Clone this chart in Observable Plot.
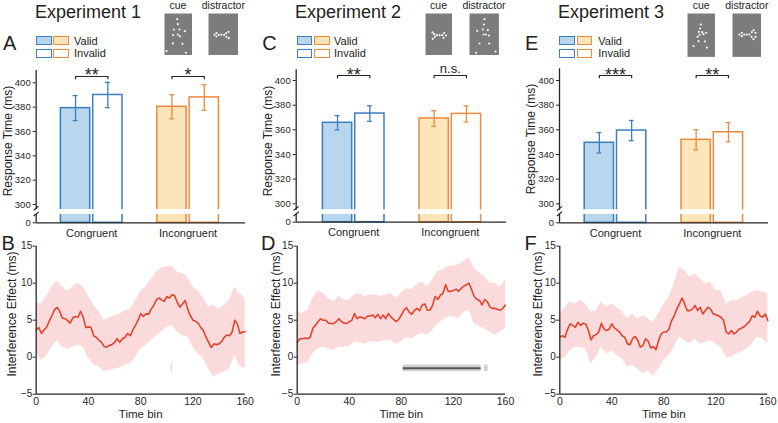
<!DOCTYPE html>
<html><head><meta charset="utf-8">
<script src="https://cdn.jsdelivr.net/npm/d3@7"></script>
<script src="https://cdn.jsdelivr.net/npm/@observablehq/plot@0.6"></script>
<style>
body{margin:0;background:#fff;}
#fig{position:relative;width:778px;height:423px;font-family:"Liberation Sans",Arial,sans-serif;color:#222;overflow:hidden;background:#fff}
.box{position:absolute;box-sizing:border-box;border:1.5px solid}
</style></head><body><div id="fig"></div>
<script>
// ---------------- DATA ----------------
const experiments = ["Experiment 1", "Experiment 2", "Experiment 3"];
const letters = [["A", "B"], ["C", "D"], ["E", "F"]];
const conditions = ["Congruent", "Incongruent"];
const validity = ["Valid", "Invalid"];
const barTicks = [300, 320, 340, 360, 380, 400];
// order: Congruent-Valid, Congruent-Invalid, Incongruent-Valid, Incongruent-Invalid
const rtExp1 = [379.2, 390.0, 380.3, 388.0];
const semExp1 = [10.3, 10.4, 9.9, 10.5];
const rtExp2 = [365.7, 373.2, 369.2, 372.9];
const semExp2 = [5.8, 6.3, 6.3, 6.5];
const rtExp3 = [349.5, 359.4, 351.9, 358.0];
const semExp3 = [8.3, 8.2, 8.2, 7.8];
const sigExp1 = ["**", "*"];
const sigExp2 = ["**", "n.s."];
const sigExp3 = ["***", "**"];

const timeTicks = [0, 40, 80, 120, 160];
const effectTicks = [-5, 0, 5, 10, 15];
const meanBins = d3.range(0, 161, 2);
const bandBins = d3.range(0, 161, 4);
const meanExp1 = [3.7,4.0,3.2,3.7,4.05,4.9,5.6,6.4,6.75,6.2,5.3,5.2,4.95,4.6,5.3,5.5,5.4,6.2,5.4,4.0,4.1,4.0,2.9,2.7,2.3,2.0,1.45,1.35,1.6,1.7,2.0,2.5,2.0,2.5,2.7,3.2,2.9,3.7,4.3,5.0,5.9,5.5,5.85,5.8,6.5,7.0,7.75,8.0,7.75,7.55,8.2,8.0,8.45,8.3,7.4,6.75,7.2,7.65,6.5,5.6,5.0,4.85,4.6,4.0,3.6,2.7,2.0,1.3,1.8,1.7,1.8,2.15,2.7,3.0,2.9,3.4,5.0,4.5,3.2,3.4,3.45];
const upperExp1 = [7.4,7.2,8.2,9.5,10.3,9.5,8.9,9.5,10.0,9.5,8.2,7.0,6.1,5.0,5.3,5.6,5.8,6.3,6.5,7.6,8.9,9.5,10.5,11.5,12.1,12.2,12.3,11.5,11.3,10.8,9.5,8.9,8.0,6.8,7.0,6.5,7.0,7.7,9.5,8.5,8.0];
const lowerExp1 = [0.45,-0.45,0.2,1.35,2.25,1.35,1.1,1.35,1.6,1.35,-0.1,-1.0,-1.25,-1.9,-1.8,-1.6,-1.45,-1.1,-0.9,0,1.1,1.6,2.25,2.9,3.4,4.0,4.3,3.4,2.9,2.7,1.35,0.45,-0.2,-1.6,-2.7,-2.25,-2.0,-1.6,0.2,-1.25,-1.6];
const meanExp2 = [2.0,2.5,2.5,2.6,2.5,2.7,3.9,4.3,4.8,5.2,5.0,5.0,4.6,4.55,4.55,4.8,5.2,4.8,4.6,4.55,4.8,5.0,5.9,5.2,5.45,5.35,5.2,5.55,5.55,5.7,5.35,5.8,5.2,5.7,5.2,5.9,5.45,5.1,4.8,5.1,5.7,6.35,6.7,6.1,5.8,6.3,6.6,6.3,7.05,7.2,6.35,6.35,7.05,8.2,7.8,8.4,8.6,9.8,8.9,8.9,9.0,9.2,8.9,9.3,9.6,9.8,10.0,9.1,8.2,7.8,7.7,7.05,7.8,7.5,6.8,6.6,6.6,6.45,6.35,6.6,7.05];
const upperExp2 = [6.1,5.9,6.35,7.95,8.9,8.6,7.95,7.5,8.2,7.7,7.7,8.4,8.6,8.2,8.4,8.4,8.2,8.4,8.6,7.95,8.6,9.3,9.1,9.8,10.2,9.5,10.45,11.6,11.8,12.3,12.3,12.5,12.95,13.4,12.05,11.4,10.9,10.0,10.0,9.5,10.45];
const lowerExp2 = [-1.15,-0.9,-0.7,0.45,1.15,1.35,1.15,0.9,1.35,1.35,1.45,2.05,1.9,1.8,2.05,2.05,2.05,2.3,2.3,1.8,2.05,2.7,2.5,2.95,3.2,2.95,3.6,4.55,5.0,5.45,5.45,5.2,6.1,6.35,4.55,4.1,3.85,3.4,2.95,3.4,3.85];
const meanExp3 = [2.7,2.9,2.7,3.8,4.5,4.3,4.05,4.7,4.3,4.6,4.5,3.6,2.35,2.9,3.05,3.4,4.6,3.8,3.6,3.8,4.5,3.95,3.7,3.4,2.9,2.7,1.8,1.7,2.5,2.8,2.25,1.35,1.6,2.5,2.15,1.25,1.45,1.0,2.25,3.15,3.4,3.4,3.8,4.95,5.6,6.5,7.2,8.0,7.2,6.3,6.3,6.5,7.0,6.3,6.75,5.85,6.3,6.75,6.5,5.85,5.75,5.6,5.4,4.95,3.4,3.15,3.6,3.15,3.4,3.8,3.95,4.15,4.5,4.85,5.6,5.4,6.2,5.6,5.4,5.85,4.95];
const upperExp3 = [5.85,6.75,7.45,7.2,7.65,7.2,6.1,6.3,7.45,6.75,7.2,6.75,6.1,5.2,5.85,5.2,5.6,5.2,4.7,5.85,7.2,8.1,9.9,12.2,11.7,10.8,11.25,10.6,9.9,10.15,9.0,9.0,7.2,7.65,7.65,8.1,8.3,8.8,9.0,8.8,8.55];
const lowerExp3 = [-0.45,0,0.9,1.35,1.35,1.1,-0.9,0,1.35,0.45,0.9,0.2,-0.2,-1.35,-1.1,-1.6,-2.25,-1.8,-2.6,-1.6,-0.45,0.2,1.35,2.7,2.25,1.8,2.5,1.8,2.0,2.25,1.8,1.35,0,0,0.45,0.7,1.1,1.8,2.7,2.5,1.8];
// significant time-bin clusters [start, end]
const sigLightExp1 = [[103.4, 104.2]];
const sigDarkExp1 = [];
const sigLightExp2 = [[81.4, 141.3], [143.9, 146.7]];
const sigDarkExp2 = [[81.4, 141.3]];
const sigLightExp3 = [];
const sigDarkExp3 = [];

// stimulus dot positions (normalised within each stimulus image)
const stimScatter1 = [[0.458,0.135],[0.482,0.254],[0.337,0.381],[0.542,0.381],[0.735,0.421],[0.482,0.5],[0.313,0.516],[0.554,0.54],[0.301,0.714],[0.651,0.722],[0.072,0.897],[0.771,0.937]];
const stimArrow1 = [[0.2,0.508],[0.267,0.468],[0.267,0.548],[0.344,0.508],[0.433,0.508],[0.522,0.508],[0.589,0.468],[0.667,0.437],[0.6,0.556],[0.678,0.587]];
const stimArrow2 = [[0.253,0.452],[0.313,0.492],[0.265,0.603],[0.337,0.556],[0.41,0.516],[0.506,0.516],[0.602,0.516],[0.675,0.468],[0.747,0.524],[0.651,0.579]];
const stimScatter2 = [[0.511,0.135],[0.489,0.262],[0.261,0.413],[0.455,0.381],[0.625,0.397],[0.477,0.5],[0.557,0.5],[0.659,0.524],[0.341,0.714],[0.67,0.714],[0.227,0.937],[0.886,0.905]];
const stimScatter3 = [[0.482,0.254],[0.458,0.346],[0.41,0.423],[0.53,0.431],[0.578,0.477],[0.434,0.492],[0.675,0.446],[0.362,0.538],[0.398,0.638],[0.627,0.646],[0.217,0.754],[0.699,0.785]];
const stimArrow3 = [[0.241,0.485],[0.322,0.446],[0.322,0.523],[0.402,0.485],[0.494,0.485],[0.586,0.485],[0.667,0.431],[0.724,0.385],[0.793,0.446],[0.793,0.538],[0.724,0.592],[0.655,0.538]];

// ---------------- STYLE ----------------
const strokeCols = ["#3b7dbd", "#ec8a3f"];
const fillCols = ["#b9d6ef", "#fbe5b9"];
const axisCol = "#262626";
const fontFam = "'Liberation Sans', Arial, sans-serif";
const fig = document.getElementById("fig");

function addText(txt, x, baseline, fs, center) {
  const d = document.createElement("div");
  d.textContent = txt;
  d.style.cssText = `position:absolute;left:${x}px;top:${baseline - 0.8465 * fs}px;font-size:${fs}px;line-height:${fs}px;white-space:nowrap;`;
  if (center) d.style.transform = "translateX(-50%)";
  fig.appendChild(d);
}
function addRotated(txt, cx, cy, fs) {
  const d = document.createElement("div");
  d.textContent = txt;
  d.style.cssText = `position:absolute;left:${cx}px;top:${cy}px;font-size:${fs}px;line-height:${fs}px;white-space:nowrap;transform:translate(-50%,-50%) rotate(-90deg);`;
  fig.appendChild(d);
}
function place(el, left, top) {
  el.style.position = "absolute";
  el.style.left = left + "px";
  el.style.top = top + "px";
  fig.appendChild(el);
}
const baseStyle = {fontFamily: fontFam, fontSize: "10px", color: axisCol, background: "transparent", overflow: "visible"};

// ---------------- BAR PANELS ----------------
function barChart(rt, sem, sig, c) {
  const k = (c.px300 - c.px400) / 100;
  const val = px => 300 + (c.px300 - px) / k;
  const yMin = val(c.pxBase), yMax = val(c.pxTop);
  const xMin = (c.L - c.c0) / c.step, xMax = (c.R - c.c0) / c.step;
  const half = 30.8 / c.step, gap = 1.5 / c.step, cap = 2.4 / c.step;
  const bars = rt.map((v, i) => {
    const ci = Math.floor(i / 2), vi = i % 2;
    const x1 = vi === 0 ? ci - half : ci + gap;
    const x2 = vi === 0 ? ci - gap : ci + half;
    return {ci, vi, v, s: sem[i], x1, x2, xc: (x1 + x2) / 2};
  });
  const brk1 = val(c.pxBreak2), brk2 = val(c.pxBreak1);
  const by = val(c.pxBracket), drop = 3.3 / k;
  const brackets = sig.map((s, ci) => ({ci, s, xa: bars[ci * 2].xc, xb: bars[ci * 2 + 1].xc}));
  return Plot.plot({
    width: c.W, height: 180,
    marginLeft: c.L, marginRight: c.W - c.R, marginTop: c.pxTop, marginBottom: 180 - c.pxBase,
    style: baseStyle,
    x: {domain: [xMin, xMax], label: null},
    y: {domain: [yMin, yMax], label: null},
    color: {type: "identity"},
    marks: [
      Plot.rect(bars, {x1: "x1", x2: "x2", y1: yMin, y2: "v",
        fill: d => d.vi === 0 ? fillCols[d.ci] : "white", stroke: d => strokeCols[d.ci], strokeWidth: 1.5}),
      Plot.ruleX(bars, {x: "xc", y1: d => d.v - d.s, y2: d => d.v + d.s, stroke: d => strokeCols[d.ci], strokeWidth: 1.3}),
      Plot.ruleY(bars, {y: d => d.v - d.s, x1: d => d.xc - cap, x2: d => d.xc + cap, stroke: d => strokeCols[d.ci], strokeWidth: 1.3}),
      Plot.ruleY(bars, {y: d => d.v + d.s, x1: d => d.xc - cap, x2: d => d.xc + cap, stroke: d => strokeCols[d.ci], strokeWidth: 1.3}),
      Plot.rect([0], {x1: xMin + 0.005, x2: xMax + 0.05, y1: brk1, y2: brk2, fill: "white"}),
      Plot.ruleY([yMin], {x1: xMin, x2: xMax, stroke: axisCol, strokeWidth: 1.3}),
      Plot.ruleX([xMin], {y1: yMin, y2: brk1 + 0.3, stroke: axisCol, strokeWidth: 1.3}),
      Plot.ruleX([xMin], {y1: brk2 - 0.3, y2: yMax, stroke: axisCol, strokeWidth: 1.3}),
      Plot.link([0, 1], {x1: xMin - 2.6 / c.step, x2: xMin + 2.6 / c.step,
        y1: d => brk1 - 1.2 + d * (brk2 - brk1 + 0.6), y2: d => brk1 + 2.2 + d * (brk2 - brk1 + 0.6), stroke: axisCol, strokeWidth: 1.1}),
      Plot.axisY({ticks: [yMin, ...barTicks], tickFormat: d => d < 300 ? "0" : String(d), tickSize: 3, tickPadding: 2.5, fontSize: 9.5, label: null}),
      Plot.axisX({ticks: [0, 1], tickFormat: i => conditions[i], tickSize: 0, tickPadding: 6, fontSize: 11, label: null}),
      Plot.link(brackets, {x1: "xa", x2: "xb", y1: by, y2: by, stroke: axisCol, strokeWidth: 1.2}),
      Plot.ruleX(brackets, {x: "xa", y1: by - drop, y2: by, stroke: axisCol, strokeWidth: 1.2}),
      Plot.ruleX(brackets, {x: "xb", y1: by - drop, y2: by, stroke: axisCol, strokeWidth: 1.2}),
      Plot.text(brackets.filter(b => b.s !== "n.s."), {x: "ci", y: by, text: "s", fontSize: 18, dy: c.starDy, fill: axisCol}),
      Plot.text(brackets.filter(b => b.s === "n.s."), {x: "ci", y: by, text: "s", fontSize: 13, dy: -6.5, fill: axisCol})
    ]
  });
}

const barCfg = [
  {W: 260, L: 35.7, R: 245, c0: 91.2, step: 96.4, px400: 22.3, px300: 144, pxBase: 162.3, pxTop: 10, pxBreak1: 149, pxBreak2: 154, pxBracket: 16, starDy: -1.6},
  {W: 260, L: 35.7, R: 246, c0: 93.2, step: 96.6, px400: 20, px300: 143.3, pxBase: 161.7, pxTop: 9.3, pxBreak1: 149.3, pxBreak2: 154, pxBracket: 15, starDy: -0.6},
  {W: 258, L: 39, R: 248, c0: 95, step: 96.8, px400: 20, px300: 143.3, pxBase: 162.3, pxTop: 8.3, pxBreak1: 149.3, pxBreak2: 154, pxBracket: 15, starDy: -0.6}
];
const rts = [rtExp1, rtExp2, rtExp3], sems = [semExp1, semExp2, semExp3], sigs = [sigExp1, sigExp2, sigExp3];
const barLefts = [0, 260, 520];
for (let e = 0; e < 3; e++) place(barChart(rts[e], sems[e], sigs[e], barCfg[e]), barLefts[e], 60);

// ---------------- LINE PANELS ----------------
function lineChart(mean, upper, lower, sigLight, sigDark, c) {
  const meanData = meanBins.map((t, i) => ({t, v: mean[i]}));
  const bandData = bandBins.map((t, i) => ({t, lo: lower[i], hi: upper[i]}));
  const light = sigLight.map(([a, b]) => ({a, b}));
  const dark = sigDark.map(([a, b]) => ({a, b}));
  return Plot.plot({
    width: c.W, height: 183,
    marginLeft: c.L, marginRight: c.W - c.R, marginTop: 5.7, marginBottom: 29.3,
    style: baseStyle,
    x: {domain: [0, 160], label: null},
    y: {domain: [-5, 15], label: null},
    marks: [
      Plot.areaY(bandData, {x: "t", y1: "lo", y2: "hi", fill: "#fadada"}),
      Plot.rect(light, {x1: "a", x2: "b", y1: -1.5 - c.h, y2: -1.5 + c.h, fill: "#d2d2d2"}),
      Plot.ruleY(dark, {x1: "a", x2: "b", y: -1.5, stroke: "#555", strokeWidth: 2}),
      Plot.line(meanData, {x: "t", y: "v", stroke: "#e1452f", strokeWidth: 1.6}),
      Plot.ruleX([0], {y1: -5, y2: 15, stroke: axisCol, strokeWidth: 1.3}),
      Plot.ruleY([-5], {x1: 0, x2: 160, stroke: axisCol, strokeWidth: 1.3}),
      Plot.axisY({ticks: effectTicks, tickSize: 3, tickPadding: 1, fontSize: 10, label: null}),
      Plot.axisX({ticks: timeTicks, tickSize: 0, tickPadding: 3.5, fontSize: 10.5, label: null}),
      Plot.text(["Time bin"], {frameAnchor: "bottom", lineAnchor: "middle", text: d => d, dy: 19.8, fontSize: 11.5, fill: axisCol})
    ]
  });
}
const lineCfg = [
  {W: 260, L: 35.7, R: 244.7, h: 0.62},
  {W: 260, L: 36.7, R: 245, h: 0.45},
  {W: 258, L: 39.3, R: 247.3, h: 0.45}
];
const means = [meanExp1, meanExp2, meanExp3], uppers = [upperExp1, upperExp2, upperExp3], lowers = [lowerExp1, lowerExp2, lowerExp3];
const sigL = [sigLightExp1, sigLightExp2, sigLightExp3], sigD = [sigDarkExp1, sigDarkExp2, sigDarkExp3];
for (let e = 0; e < 3; e++) place(lineChart(means[e], uppers[e], lowers[e], sigL[e], sigD[e], lineCfg[e]), barLefts[e], 240);

// ---------------- STIMULI ----------------
function stim(points, w, h) {
  return Plot.plot({
    width: w, height: h, margin: 0, style: {background: "transparent"},
    x: {domain: [0, 1], axis: null}, y: {domain: [0, 1], reverse: true, axis: null},
    marks: [
      Plot.frame({fill: "#7c7c7c", stroke: "none"}),
      Plot.dot(points, {x: d => d[0], y: d => d[1], r: 1.1, fill: "#f4f4f4", stroke: "none"})
    ]
  });
}
const stimList = [
  {pts: stimScatter1, x: 164, w: 27.7, h: 42, label: "cue"},
  {pts: stimArrow1, x: 208.3, w: 30, h: 42, label: "distractor"},
  {pts: stimArrow2, x: 424.7, w: 27.7, h: 42, label: "cue"},
  {pts: stimScatter2, x: 469.3, w: 29.4, h: 42, label: "distractor"},
  {pts: stimScatter3, x: 687.3, w: 27.7, h: 43.4, label: "cue"},
  {pts: stimArrow3, x: 732.3, w: 29, h: 43.4, label: "distractor"}
];
for (const s of stimList) {
  place(stim(s.pts, s.w, s.h), s.x, 13.3);
  addText(s.label, s.x + s.w / 2, 9.3, 10.5, true);
}

// ---------------- TEXT, LEGENDS ----------------
const titleX = [35, 295, 558];
const letterX = [[3, 1.5], [262.3, 261], [525, 524.5]];
const legBoxX = [36, 296.7, 559.3];
const legTextX = [74, 334, 598.3];
const ylabBar = [[7.5, 140.5], [268, 140.8], [530.5, 139]];
const ylabLine = [[12.3, 313.8], [275.8, 314], [537.5, 314]];
for (let e = 0; e < 3; e++) {
  addText(experiments[e], titleX[e], 18.3, 18);
  addText(letters[e][0], letterX[e][0], 50, 20);
  addText(letters[e][1], letterX[e][1], 250, 20);
  addRotated("Response Time (ms)", ylabBar[e][0], ylabBar[e][1], 12);
  addRotated("Interference Effect (ms)", ylabLine[e][0], ylabLine[e][1], 12);
  for (let r = 0; r < 2; r++) {
    for (let ci = 0; ci < 2; ci++) {
      const b = document.createElement("div");
      b.className = "box";
      b.style.left = (legBoxX[e] + ci * 17.4) + "px";
      b.style.top = (35.7 + r * 13.3) + "px";
      b.style.width = "15.7px"; b.style.height = "9.3px";
      b.style.borderColor = strokeCols[ci];
      b.style.background = r === 0 ? fillCols[ci] : "white";
      fig.appendChild(b);
    }
    addText(validity[r], legTextX[e], 45 + r * 12.7, 11);
  }
}
</script></body></html>
